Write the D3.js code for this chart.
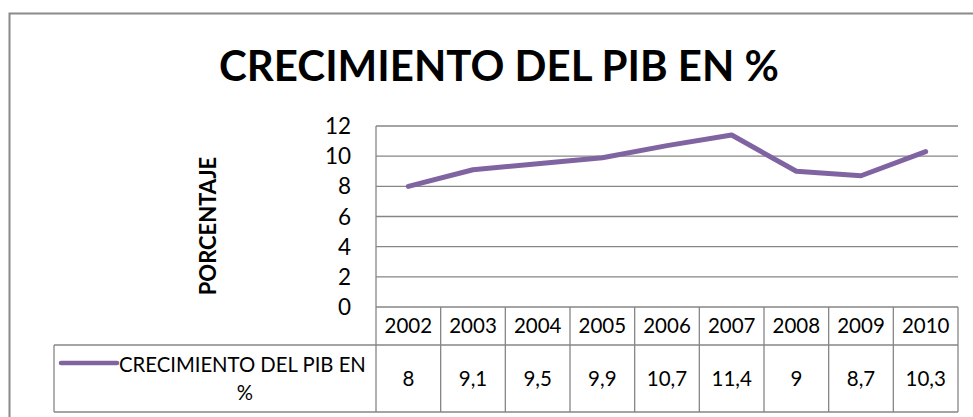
<!DOCTYPE html>
<html>
<head>
<meta charset="utf-8">
<script src="https://cdn.jsdelivr.net/npm/d3@7"></script>
<style>
  body { margin: 0; background: #fff; }
  svg { display: block; font-family: Lato, "Open Sans", sans-serif; }
</style>
</head>
<body>
<div id="chart"></div>
<script>
const years = ["2002", "2003", "2004", "2005", "2006", "2007", "2008", "2009", "2010"]
const values = [8, 9.1, 9.5, 9.9, 10.7, 11.4, 9, 8.7, 10.3]
const valueLabels = ["8", "9,1", "9,5", "9,9", "10,7", "11,4", "9", "8,7", "10,3"]
const yTicks = [0, 2, 4, 6, 8, 10, 12]
const seriesName = "CRECIMIENTO DEL PIB EN %"

const width = 973, height = 417
const gridColor = "#868686"
const lineColor = "#8064a2"

const svg = d3.select("#chart").append("svg")
  .attr("width", width)
  .attr("height", height)

// outer chart border (runs off the right and bottom edge)
svg.append("rect")
  .attr("x", 9.5).attr("y", 13.5)
  .attr("width", 975).attr("height", 420)
  .attr("fill", "none")
  .attr("stroke", "#8a8a8a")
  .attr("stroke-width", 2)

const x = d3.scaleBand().domain(years).range([376, 958])
const y = d3.scaleLinear().domain([0, 12]).range([307, 126])

// title
svg.append("text")
  .attr("x", 499).attr("y", 81)
  .attr("text-anchor", "middle")
  .attr("font-size", 42)
  .attr("font-weight", "bold")
  .text(seriesName)

// axis title
svg.append("text")
  .attr("transform", "translate(216,226) rotate(-90)")
  .attr("text-anchor", "middle")
  .attr("font-size", 22)
  .attr("font-weight", "bold")
  .text("PORCENTAJE")

// gridlines
svg.append("g")
  .selectAll("line")
  .data(yTicks.filter(d => d > 0))
  .join("line")
  .attr("x1", x.range()[0]).attr("x2", x.range()[1])
  .attr("y1", d => y(d)).attr("y2", d => y(d))
  .attr("stroke", gridColor)
  .attr("stroke-width", 1.3)

// vertical axis line
svg.append("line")
  .attr("x1", 376).attr("x2", 376)
  .attr("y1", y(12)).attr("y2", y(0))
  .attr("stroke", gridColor)
  .attr("stroke-width", 1.3)

// y tick labels
svg.append("g")
  .selectAll("text")
  .data(yTicks)
  .join("text")
  .attr("x", 351)
  .attr("y", d => y(d))
  .attr("dy", "0.36em")
  .attr("text-anchor", "end")
  .attr("font-size", 22.5)
  .text(d => d)

// data table
const tableTop = y(0), headerBottom = 345, tableBottom = 412, legendLeft = 54
const table = svg.append("g")
  .attr("stroke", gridColor)
  .attr("stroke-width", 1.3)
  .attr("fill", "none")

table.append("line")
  .attr("x1", x.range()[0]).attr("x2", x.range()[1])
  .attr("y1", tableTop).attr("y2", tableTop)
table.append("line")
  .attr("x1", legendLeft).attr("x2", x.range()[1])
  .attr("y1", headerBottom).attr("y2", headerBottom)
table.append("line")
  .attr("x1", legendLeft).attr("x2", x.range()[1])
  .attr("y1", tableBottom).attr("y2", tableBottom)
table.append("line")
  .attr("x1", legendLeft).attr("x2", legendLeft)
  .attr("y1", headerBottom).attr("y2", tableBottom)
table.selectAll(".col")
  .data(years.concat(["end"]))
  .join("line")
  .attr("class", "col")
  .attr("x1", d => d === "end" ? x.range()[1] : x(d))
  .attr("x2", d => d === "end" ? x.range()[1] : x(d))
  .attr("y1", tableTop).attr("y2", tableBottom)

svg.append("g")
  .selectAll("text")
  .data(years)
  .join("text")
  .attr("x", d => x(d) + x.bandwidth() / 2)
  .attr("y", (tableTop + headerBottom) / 2)
  .attr("dy", "0.36em")
  .attr("text-anchor", "middle")
  .attr("font-size", 20.5)
  .text(d => d)

svg.append("g")
  .selectAll("text")
  .data(valueLabels)
  .join("text")
  .attr("x", (d, i) => x(years[i]) + x.bandwidth() / 2)
  .attr("y", (headerBottom + tableBottom) / 2)
  .attr("dy", "0.36em")
  .attr("text-anchor", "middle")
  .attr("font-size", 20.5)
  .text(d => d)

// legend key in table
svg.append("line")
  .attr("x1", 61).attr("x2", 117)
  .attr("y1", 363).attr("y2", 363)
  .attr("stroke", lineColor)
  .attr("stroke-width", 4.5)
  .attr("stroke-linecap", "round")
svg.append("text")
  .attr("x", 119).attr("y", 365)
  .attr("dy", "0.36em")
  .attr("font-size", 20.3)
  .text("CRECIMIENTO DEL PIB EN")
svg.append("text")
  .attr("x", 245).attr("y", 393)
  .attr("dy", "0.36em")
  .attr("text-anchor", "middle")
  .attr("font-size", 20.3)
  .text("%")

// series line
const line = d3.line()
  .x((d, i) => x(years[i]) + x.bandwidth() / 2)
  .y(d => y(d))

svg.append("path")
  .datum(values)
  .attr("d", line)
  .attr("fill", "none")
  .attr("stroke", lineColor)
  .attr("stroke-width", 5)
  .attr("stroke-linejoin", "round")
  .attr("stroke-linecap", "round")
</script>
</body>
</html>
